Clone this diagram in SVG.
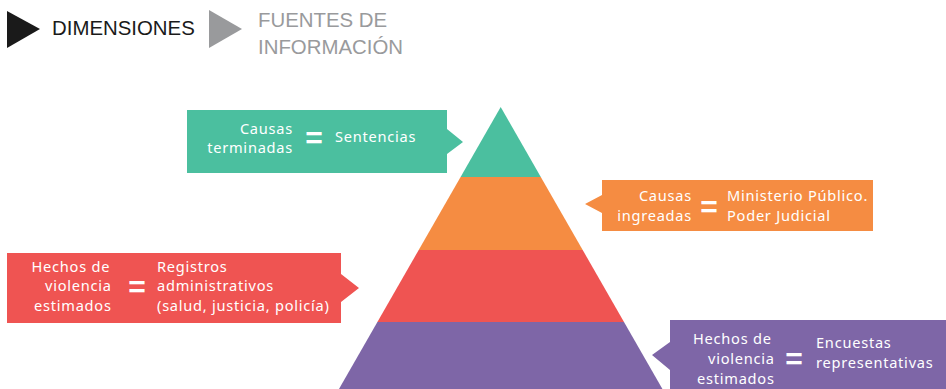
<svg xmlns="http://www.w3.org/2000/svg" width="946" height="389" viewBox="0 0 946 389">
<style>
.hd{font-family:"Liberation Sans",Arial,sans-serif;font-size:20.4px}
.t{font-family:"Noto Sans","Open Sans",sans-serif;font-size:14.6px;fill:#fff;letter-spacing:0.75px}
.eq{font-family:"Liberation Sans",Arial,sans-serif;font-size:30px;font-weight:bold;fill:#fff;text-anchor:middle}
.e{text-anchor:end}
</style>
<rect width="946" height="389" fill="#fff"/>
<g id="header">
<polygon points="7,11 40,29 7,48" fill="#1a1a1a"/>
<text class="hd" x="52" y="35" fill="#1a1a1a">DIMENSIONES</text>
<polygon points="209,10 242,29 209,48" fill="#999a9c"/>
<text class="hd" x="258" y="27" fill="#999a9c">FUENTES DE</text>
<text class="hd" x="258" y="54" fill="#999a9c">INFORMACIÓN</text>
</g>
<g id="pyramid">
<polygon id="level1" points="500.7,107 540.8,177 460.6,177" fill="#4bbf9f"/>
<polygon id="level2" points="460.6,177 540.8,177 582.7,250 418.7,250" fill="#f58c42"/>
<polygon id="level3" points="418.7,250 582.7,250 624,322 377.4,322" fill="#ef5452"/>
<polygon id="level4" points="377.4,322 624,322 663,390 338.4,390" fill="#7e66a7"/>
</g>
<g id="callout1">
<polygon points="187,110 447,110 447,129 463,142 447,154 447,173 187,173" fill="#4bbf9f"/>
<text class="t e" x="293" y="134">Causas</text>
<text class="t e" x="293" y="153">terminadas</text>
<text class="eq" x="314" y="148">=</text>
<text class="t" x="335" y="142">Sentencias</text>
</g>
<g id="callout2">
<polygon points="602,180 873,180 873,231 602,231 602,213 585,204 602,195" fill="#f58c42"/>
<text class="t e" x="692" y="201">Causas</text>
<text class="t e" x="692" y="220.5">ingreadas</text>
<text class="eq" x="709" y="217">=</text>
<text class="t" x="727" y="201">Ministerio Público.</text>
<text class="t" x="727" y="220.5">Poder Judicial</text>
</g>
<g id="callout3">
<polygon points="7,253 341,253 341,274 359,288 341,302 341,323 7,323" fill="#ef5452"/>
<text class="t" x="31.5" y="272">Hechos de</text>
<text class="t" x="45" y="291">violencia</text>
<text class="t" x="34" y="311">estimados</text>
<text class="eq" x="137" y="297">=</text>
<text class="t" x="157" y="272">Registros</text>
<text class="t" x="157" y="291">administrativos</text>
<text class="t" x="157" y="311">(salud, justicia, policía)</text>
</g>
<g id="callout4">
<polygon points="670,320 946,320 946,389 670,389 670,370 652,355 670,342" fill="#7e66a7"/>
<text class="t" x="693" y="344">Hechos de</text>
<text class="t" x="708" y="364">violencia</text>
<text class="t" x="697" y="384">estimados</text>
<text class="eq" x="794" y="369">=</text>
<text class="t" x="816" y="348">Encuestas</text>
<text class="t" x="816" y="367.5">representativas</text>
</g>
</svg>
